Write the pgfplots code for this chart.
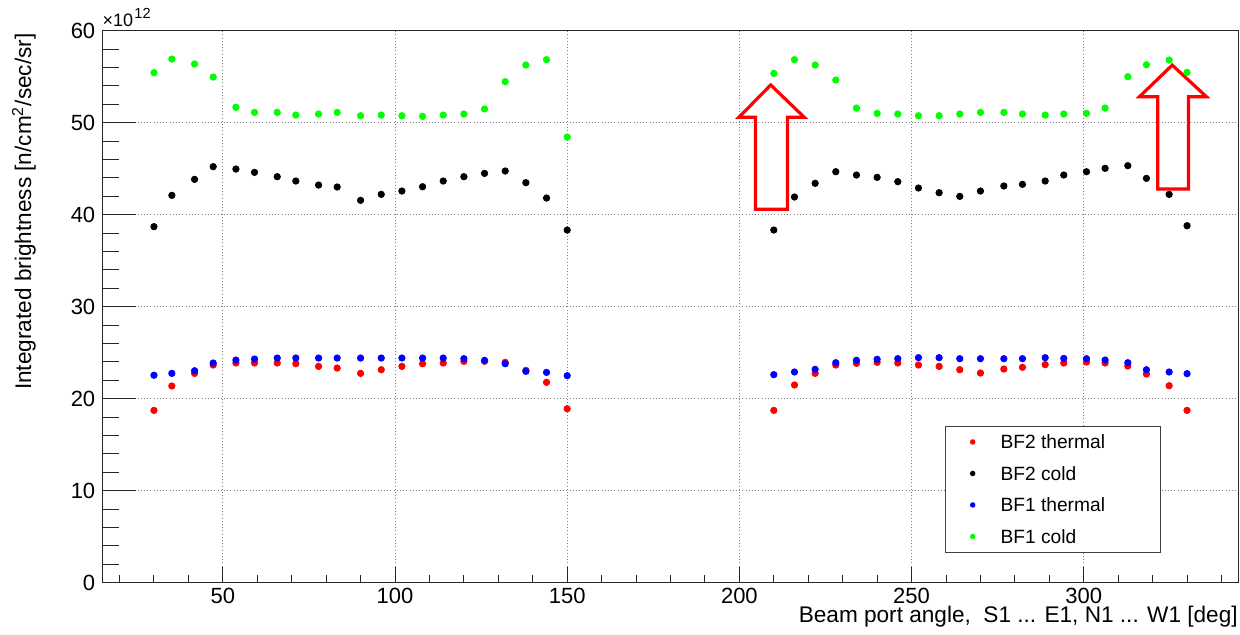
\documentclass[border=0pt]{standalone}
\usepackage{fontspec}
\setmainfont{Liberation Sans}
\usepackage{pgfplots}
\pgfplotsset{compat=1.18}
\usepackage{pgfplotstable}

\definecolor{rred}{RGB}{255,0,0}
\definecolor{rgreen}{RGB}{0,255,0}
\definecolor{rblue}{RGB}{0,0,255}

\pgfplotstableread{
x r k b g
30 18.73 38.70 22.55 55.43
35.2 21.38 42.10 22.75 56.92
41.8 22.75 43.84 23.04 56.38
47.2 23.66 45.22 23.88 54.96
53.8 23.88 44.96 24.20 51.67
59.2 23.88 44.60 24.31 51.12
65.8 23.88 44.13 24.42 51.12
71.2 23.80 43.66 24.42 50.83
77.8 23.51 43.22 24.42 50.94
83.2 23.33 43.01 24.42 51.12
90 22.75 41.56 24.42 50.76
96 23.15 42.21 24.42 50.83
102 23.51 42.57 24.42 50.76
108 23.80 43.04 24.42 50.69
114 23.88 43.66 24.42 50.83
120 24.06 44.13 24.35 50.94
126 24.06 44.49 24.17 51.49
132 23.95 44.75 23.80 54.46
138 23.08 43.48 22.97 56.27
144 21.78 41.81 22.86 56.85
150 18.91 38.33 22.50 48.44
210 18.73 38.33 22.61 55.36
216 21.49 41.92 22.90 56.85
222 22.75 43.41 23.19 56.27
228 23.66 44.67 23.91 54.64
234 23.84 44.31 24.17 51.59
240 23.95 44.06 24.28 51.01
246 23.88 43.59 24.35 50.94
252 23.66 42.90 24.46 50.76
258 23.51 42.39 24.46 50.76
264 23.15 41.99 24.35 50.94
270 22.79 42.57 24.35 51.12
276.8 23.22 43.12 24.35 51.12
282.2 23.41 43.30 24.35 50.94
288.8 23.70 43.66 24.46 50.83
294.2 23.88 44.31 24.38 50.94
300.8 23.99 44.67 24.35 51.01
306.2 23.88 45.04 24.20 51.59
312.8 23.55 45.33 23.91 55.00
318.2 22.68 43.95 23.15 56.30
324.8 21.41 42.21 22.90 56.81
330 18.73 38.80 22.72 55.47
}\data

\newcommand{\lentry}[1]{\rule[-4.5pt]{0pt}{15.75pt}\makebox[79.85pt][l]{#1}}

\begin{document}
\begin{tikzpicture}
\path[use as bounding box] (0,0) rectangle (620pt,317.5pt);
\begin{axis}[
  at={(51.15pt,26.15pt)}, anchor=south west,
  width=568.2pt, height=276pt, scale only axis,
  xmin=15, xmax=345, ymin=0, ymax=60,
  xtick={50,100,...,300}, ytick={0,10,...,60},
  minor xtick={20,30,...,340}, minor ytick={2,4,...,58},
  tick pos=left, tick align=inside,
  xtick style={/pgfplots/major tick length=8pt,/pgfplots/minor tick length=4pt},
  ytick style={/pgfplots/major tick length=17pt,/pgfplots/minor tick length=8.5pt},
  every tick/.append style={black!85, line width=0.5pt},
  grid=major,
  major grid style={black!50, line width=0.45pt, dash pattern=on 0.5pt off 1.1pt},
  axis line style={black!85, line width=0.7pt},
  ticklabel style={font=\fontsize{11}{13}\selectfont},
  xticklabel style={yshift=0.8pt},
  /pgf/number format/assume math mode=true,
  clip=false,
  legend style={at={(0.7418,0.2844)}, anchor=north west,
    draw=black!75, line width=0.5pt, fill=white,
    inner xsep=0pt, inner ysep=0pt,
    nodes={inner sep=0pt, text depth={}, text height={}},
    cells={anchor=west}, row sep=0pt, column sep=0pt,
    font=\fontsize{9.6}{11}\selectfont},
  legend image code/.code={\path (0pt,0pt) (26.85pt,0pt); \draw[#1,mark size=1.1pt] plot coordinates {(13.2pt,0pt)};},
]
\draw[rred, line width=1.6pt, line join=miter]
  (axis cs:209.1,54.1) -- (axis cs:218.8,50.6) -- (axis cs:214.0,50.6) -- (axis cs:214.0,40.6)
  -- (axis cs:204.7,40.6) -- (axis cs:204.7,50.6) -- (axis cs:199.9,50.6) -- cycle;
\draw[rred, line width=1.6pt, line join=miter]
  (axis cs:325.7,56.26) -- (axis cs:335.6,52.83) -- (axis cs:330.4,52.83) -- (axis cs:330.4,42.8)
  -- (axis cs:321.5,42.8) -- (axis cs:321.5,52.83) -- (axis cs:316.2,52.83) -- cycle;

\addplot[only marks, mark=*, mark size=1.6pt, color=rred] table[x=x,y=r]{\data};
\addlegendentry{\lentry{BF2 thermal}}
\addplot[only marks, mark=*, mark size=1.6pt, color=black] table[x=x,y=k]{\data};
\addlegendentry{\lentry{BF2 cold}}
\addplot[only marks, mark=*, mark size=1.6pt, color=rblue] table[x=x,y=b]{\data};
\addlegendentry{\lentry{BF1 thermal}}
\addplot[only marks, mark=*, mark size=1.6pt, color=rgreen] table[x=x,y=g]{\data};
\addlegendentry{\lentry{BF1 cold}}

\node[anchor=base west, inner sep=0pt, yshift=2pt, font=\fontsize{9}{11}\selectfont]
  at (rel axis cs:0,1) {×10\kern0.6pt\raisebox{4.2pt}{\fontsize{7.3}{8}\selectfont 12}};
\node[rotate=90, anchor=base east, inner sep=0pt, font=\fontsize{11.3}{13}\selectfont]
  at (rel axis cs:-0.0627,0.9958) {Integrated brightness [n/cm\textsuperscript{2}/sec/sr]};
\node[anchor=base east, inner sep=0pt, font=\fontsize{11.3}{13}\selectfont]
  at (rel axis cs:0.9994,-0.0728) {Beam port angle,\ \ S1 ... E1, N1 ... W1 [deg]};
\end{axis}
\end{tikzpicture}
\end{document}
